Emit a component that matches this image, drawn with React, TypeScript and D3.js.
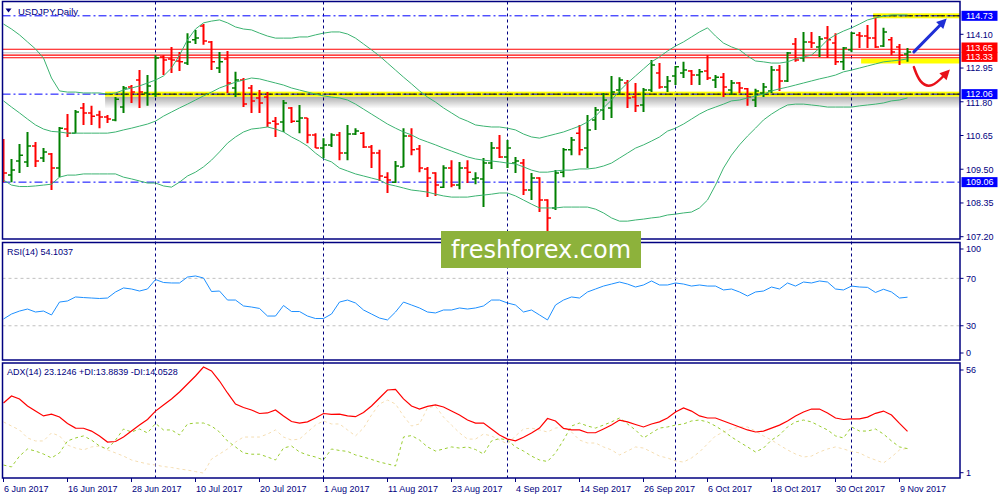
import { useEffect, useRef } from 'react'
import * as d3 from 'd3'

const symbol = 'USDJPY,Daily'
const startDate = new Date(2017, 5, 6)
const endDate = new Date(2017, 10, 11)

const opens = [
  110.46, 109.30, 109.78, 109.75, 110.29, 109.88, 110.02, 109.54, 110.87, 110.73,
  111.59, 111.42, 111.35, 111.28, 111.18, 111.62, 112.30, 112.54, 112.10, 112.06,
  113.33, 113.26, 113.19, 113.12, 113.91, 114.38, 113.84, 112.95, 113.26, 112.27,
  112.54, 112.27, 111.93, 111.96, 111.14, 111.11, 111.59, 111.14, 111.25, 110.67,
  110.22, 110.33, 110.67, 110.05, 110.70, 110.73, 110.26, 110.05, 109.23, 109.06,
  109.58, 110.63, 110.19, 109.51, 109.37, 108.89, 109.54, 108.96, 109.54, 109.17,
  109.17, 109.71, 110.22, 109.92, 109.71, 109.71, 108.79, 109.20, 108.45, 108.18,
  109.40, 110.16, 110.73, 110.22, 111.18, 111.52, 111.59, 112.20, 112.44, 111.96,
  111.69, 112.20, 112.78, 112.30, 112.68, 112.78, 112.85, 112.71, 112.85, 112.54,
  112.64, 112.20, 112.44, 112.24, 111.86, 112.10, 112.17, 112.88, 112.51, 113.77,
  113.29, 113.84, 113.67, 113.97, 113.80, 113.16, 113.57, 114.08, 114.04, 113.97,
  113.70, 113.91, 113.67, 113.43
]
const highs = [
  110.53, 109.85, 110.36, 110.77, 110.43, 110.22, 110.05, 110.94, 111.38, 111.52,
  111.76, 111.66, 111.49, 111.35, 111.96, 112.34, 112.37, 112.88, 112.71, 113.39,
  113.39, 113.67, 113.50, 114.14, 114.25, 114.45, 113.87, 113.50, 113.53, 112.82,
  112.61, 112.37, 112.20, 112.13, 111.28, 111.86, 111.62, 111.69, 111.25, 110.73,
  110.56, 110.73, 110.77, 111.01, 110.90, 110.77, 110.33, 110.16, 109.40, 109.78,
  110.90, 110.90, 110.33, 109.58, 109.40, 109.64, 109.81, 109.75, 109.81, 109.40,
  109.88, 110.43, 110.67, 110.50, 109.92, 109.85, 109.37, 109.23, 108.48, 109.47,
  110.22, 110.60, 111.01, 111.35, 111.62, 112.10, 112.68, 112.64, 112.54, 112.44,
  112.27, 113.22, 113.12, 112.68, 113.02, 113.16, 112.88, 112.92, 113.39, 112.71,
  112.78, 112.54, 112.47, 112.27, 112.24, 112.44, 113.02, 113.05, 113.50, 113.97,
  114.18, 114.18, 114.04, 114.38, 114.14, 113.67, 114.18, 114.18, 114.42, 114.66,
  114.32, 114.01, 113.77, 113.63
]
const lows = [
  109.06, 109.06, 109.37, 109.58, 109.58, 109.75, 108.79, 109.23, 110.60, 110.73,
  111.01, 111.01, 110.90, 111.08, 111.14, 111.42, 111.76, 111.59, 111.66, 111.96,
  112.71, 112.78, 112.85, 113.05, 113.77, 113.74, 112.88, 112.78, 112.10, 111.96,
  111.62, 111.42, 111.42, 110.94, 110.60, 110.77, 111.08, 110.73, 110.39, 110.22,
  109.88, 110.26, 109.81, 109.81, 110.67, 110.22, 109.54, 109.10, 108.69, 109.03,
  109.58, 109.98, 109.40, 108.55, 108.59, 108.86, 108.89, 108.82, 109.03, 108.99,
  108.21, 109.51, 109.88, 109.54, 109.37, 108.62, 108.45, 108.04, 107.36, 108.11,
  109.23, 109.98, 109.98, 109.54, 110.84, 111.18, 111.25, 112.03, 111.59, 111.45,
  111.45, 112.13, 112.24, 112.13, 112.37, 112.61, 112.37, 112.37, 112.54, 112.27,
  111.96, 112.03, 112.10, 111.66, 111.62, 111.96, 112.10, 112.17, 112.47, 113.16,
  113.16, 113.63, 113.33, 113.29, 113.05, 112.88, 113.50, 113.63, 113.63, 113.63,
  113.67, 113.39, 113.05, 113.16
]
const closes = [
  109.37, 109.47, 109.98, 110.29, 109.78, 110.09, 109.54, 110.90, 110.73, 111.45,
  111.42, 111.31, 111.28, 111.21, 111.89, 112.27, 112.13, 112.13, 112.34, 113.29,
  113.22, 113.22, 113.16, 113.84, 113.97, 113.87, 113.16, 113.16, 112.44, 112.54,
  111.72, 111.83, 111.76, 111.08, 111.04, 111.76, 111.14, 111.25, 110.67, 110.22,
  110.33, 110.67, 110.05, 110.70, 110.80, 110.26, 110.05, 109.27, 109.13, 109.61,
  110.63, 110.16, 109.54, 109.20, 108.96, 109.54, 108.96, 109.54, 109.40, 109.20,
  109.71, 110.22, 109.92, 110.22, 109.78, 108.79, 109.20, 108.45, 107.84, 109.37,
  110.16, 110.50, 110.16, 110.84, 111.52, 111.86, 112.13, 112.54, 111.93, 111.66,
  112.20, 113.05, 112.30, 112.51, 112.99, 112.88, 112.71, 112.82, 112.61, 112.64,
  112.30, 112.44, 112.27, 111.96, 112.17, 112.30, 112.88, 112.51, 113.46, 113.22,
  113.84, 113.80, 113.94, 113.91, 113.16, 113.63, 114.14, 114.04, 113.97, 113.67,
  114.18, 113.50, 113.39, 113.50
]

const bbUpper = [
  114.45, 114.28, 114.08, 113.84, 113.60, 113.29, 112.61, 112.17, 112.13, 112.13,
  112.10, 112.10, 112.10, 112.06, 112.10, 112.20, 112.27, 112.34, 112.44, 112.54,
  112.68, 112.95, 113.39, 113.91, 114.28, 114.49, 114.55, 114.59, 114.49, 114.35,
  114.28, 114.25, 114.14, 114.04, 113.97, 113.97, 113.97, 114.01, 114.01, 114.08,
  114.14, 114.18, 114.18, 114.11, 113.97, 113.77, 113.57, 113.36, 113.12, 112.88,
  112.64, 112.41, 112.17, 111.96, 111.79, 111.59, 111.42, 111.25, 111.14, 111.01,
  110.97, 110.94, 110.94, 110.90, 110.84, 110.70, 110.60, 110.56, 110.63, 110.70,
  110.77, 110.87, 110.97, 111.11, 111.31, 111.59, 111.86, 112.17, 112.44, 112.68,
  112.92, 113.16, 113.33, 113.53, 113.70, 113.84, 114.01, 114.18, 114.32, 114.04,
  113.80, 113.67, 113.57, 113.36, 113.19, 113.16, 113.12, 113.12, 113.16, 113.26,
  113.33, 113.39, 113.63, 113.91, 114.08, 114.21, 114.32, 114.45, 114.59, 114.66,
  114.72, 114.76, 114.76, 114.76
]
const bbMiddle = [
  111.83, 111.62, 111.42, 111.21, 111.01, 110.87, 110.79, 110.77, 110.73, 110.73,
  110.73, 110.73, 110.73, 110.73, 110.77, 110.84, 110.90, 110.97, 111.04, 111.14,
  111.31, 111.45, 111.59, 111.72, 111.86, 112.00, 112.13, 112.27, 112.37, 112.47,
  112.54, 112.61, 112.58, 112.51, 112.44, 112.37, 112.27, 112.20, 112.13, 112.06,
  112.00, 111.96, 111.93, 111.86, 111.72, 111.55, 111.38, 111.21, 111.04, 110.90,
  110.77, 110.67, 110.53, 110.43, 110.33, 110.22, 110.12, 110.02, 109.92, 109.85,
  109.81, 109.78, 109.75, 109.71, 109.68, 109.58, 109.47, 109.40, 109.40, 109.44,
  109.47, 109.47, 109.51, 109.51, 109.54, 109.61, 109.71, 109.88, 110.05, 110.22,
  110.33, 110.46, 110.60, 110.80, 110.90, 111.04, 111.21, 111.38, 111.52, 111.62,
  111.72, 111.83, 111.86, 111.93, 112.00, 112.06, 112.17, 112.24, 112.30, 112.37,
  112.44, 112.51, 112.58, 112.64, 112.71, 112.82, 112.88, 112.95, 113.02, 113.09,
  113.16, 113.19, 113.22, 113.26
]
const bbLower = [
  109.13, 108.96, 108.91, 108.91, 108.93, 108.96, 108.99, 109.23, 109.30, 109.30,
  109.34, 109.34, 109.34, 109.34, 109.34, 109.23, 109.17, 109.10, 109.03, 109.03,
  108.93, 108.89, 109.06, 109.27, 109.40, 109.58, 109.81, 110.09, 110.39, 110.60,
  110.77, 110.87, 110.90, 110.94, 110.87, 110.77, 110.60, 110.46, 110.29, 110.05,
  109.85, 109.75, 109.54, 109.44, 109.34, 109.27, 109.20, 109.13, 108.99, 108.93,
  108.86, 108.79, 108.76, 108.72, 108.65, 108.59, 108.55, 108.55, 108.55, 108.59,
  108.62, 108.65, 108.69, 108.69, 108.59, 108.45, 108.31, 108.18, 108.18, 108.18,
  108.21, 108.21, 108.21, 108.21, 108.14, 108.01, 107.84, 107.73, 107.73, 107.77,
  107.80, 107.84, 107.87, 107.94, 107.97, 108.01, 108.04, 108.18, 108.45, 108.96,
  109.54, 109.98, 110.33, 110.63, 110.90, 111.18, 111.38, 111.55, 111.69, 111.72,
  111.72, 111.69, 111.66, 111.62, 111.62, 111.62, 111.62, 111.66, 111.69, 111.72,
  111.76, 111.83, 111.86, 111.93
]

const rsi14 = [
  35.7, 39.9, 42.4, 44.1, 41.6, 42.4, 39.1, 50.0, 50.9, 54.3,
  53.8, 53.4, 53.0, 53.4, 58.5, 61.9, 61.0, 59.3, 61.0, 69.0,
  66.5, 66.1, 66.1, 71.1, 72.0, 70.3, 58.9, 59.3, 51.7, 51.7,
  46.7, 45.8, 44.6, 38.2, 38.2, 47.1, 42.0, 42.0, 38.2, 36.1,
  36.1, 39.9, 50.0, 51.7, 49.2, 43.3, 39.9, 36.5, 34.9, 41.6,
  50.0, 47.5, 45.0, 41.6, 40.8, 43.3, 43.3, 45.0, 44.1, 45.0,
  46.7, 51.7, 51.7, 49.2, 47.5, 41.6, 43.3, 39.1, 34.9, 47.5,
  51.7, 54.3, 53.4, 58.5, 61.0, 63.5, 65.2, 66.9, 65.2, 62.7,
  64.4, 67.8, 64.4, 64.4, 66.1, 65.2, 63.5, 64.4, 63.5, 63.5,
  60.2, 61.0, 58.5, 55.1, 58.5, 59.3, 62.7, 61.0, 66.1, 63.5,
  66.9, 66.1, 67.8, 66.9, 61.0, 60.2, 63.5, 62.7, 62.4, 58.1,
  60.8, 58.5, 53.4, 54.1
]
const adx14 = [
  38.3, 42.1, 40.5, 36.7, 34.0, 31.4, 32.4, 30.8, 27.4, 24.9,
  24.8, 23.3, 20.7, 17.4, 17.7, 20.1, 23.3, 26.5, 29.5, 34.0,
  37.3, 40.5, 44.2, 48.5, 52.8, 57.6, 55.5, 50.1, 43.7, 37.8,
  35.9, 34.6, 32.7, 33.0, 34.6, 31.4, 28.4, 27.6, 28.2, 30.3,
  32.7, 32.2, 32.4, 31.4, 31.0, 33.2, 36.7, 41.0, 45.3, 45.6,
  40.5, 36.7, 35.1, 36.5, 37.3, 36.2, 34.0, 31.9, 29.2, 27.6,
  27.6, 24.4, 21.2, 19.0, 18.1, 20.0, 22.3, 24.9, 30.0, 28.7,
  24.7, 23.9, 23.9, 22.4, 22.4, 24.4, 26.5, 29.2, 28.2, 26.8,
  25.5, 27.1, 28.2, 30.3, 33.5, 35.7, 34.0, 31.4, 30.3, 30.3,
  28.7, 27.1, 25.5, 23.9, 22.8, 23.3, 24.9, 26.5, 28.7, 31.4,
  33.5, 35.1, 35.1, 33.0, 30.3, 29.5, 29.8, 29.8, 30.8, 32.8,
  34.0, 31.9, 27.4, 23.1
]
const plusDI = [
  5.1, 4.1, 9.9, 13.7, 12.6, 11.0, 8.9, 11.6, 18.0, 19.6,
  20.7, 18.5, 15.3, 13.7, 18.5, 24.4, 22.8, 24.4, 22.3, 27.4,
  23.9, 23.9, 21.2, 27.1, 27.6, 27.6, 26.0, 22.8, 18.0, 14.8,
  11.6, 10.9, 10.9, 9.4, 7.8, 14.2, 15.3, 12.1, 10.5, 9.4,
  7.8, 13.7, 12.9, 12.4, 10.5, 9.4, 8.1, 6.7, 5.7, 4.6,
  20.1, 20.9, 18.5, 14.8, 12.6, 13.7, 14.8, 14.2, 14.8, 13.4,
  11.0, 18.0, 19.3, 18.5, 14.8, 12.6, 9.9, 7.8, 7.0, 11.6,
  18.5, 26.0, 27.6, 26.0, 24.9, 26.5, 28.2, 30.3, 27.1, 23.9,
  19.6, 22.3, 24.9, 25.5, 26.5, 27.1, 28.7, 29.2, 28.2, 26.0,
  23.3, 20.1, 17.4, 14.8, 12.1, 14.2, 18.5, 21.2, 25.5, 28.2,
  29.2, 28.2, 26.0, 23.9, 20.7, 19.6, 25.5, 23.3, 23.3, 24.4,
  21.7, 18.0, 14.8, 13.9
]
const minusDI = [
  28.2, 26.0, 23.9, 19.6, 18.0, 18.0, 22.3, 20.7, 15.8, 14.2,
  13.2, 14.8, 15.3, 13.2, 11.6, 9.9, 7.8, 6.7, 5.7, 5.1,
  4.3, 3.8, 3.0, 2.4, 1.6, 0.8, 8.3, 11.0, 13.7, 17.4,
  20.1, 20.1, 20.1, 21.7, 23.9, 20.1, 18.5, 19.0, 22.8, 26.5,
  28.7, 27.1, 27.1, 23.9, 20.7, 24.9, 31.9, 37.8, 39.9, 37.8,
  31.4, 26.0, 27.1, 35.7, 36.7, 30.8, 26.5, 22.3, 19.0, 19.0,
  21.7, 20.7, 18.5, 16.4, 20.7, 24.4, 24.9, 23.9, 22.8, 24.9,
  25.5, 22.8, 18.5, 16.9, 16.9, 14.8, 13.2, 10.5, 12.6, 14.8,
  14.2, 12.1, 9.9, 8.9, 7.3, 6.7, 8.9, 12.1, 16.4, 20.7,
  22.8, 24.4, 25.5, 25.5, 23.3, 20.7, 18.5, 15.8, 13.2, 11.0,
  9.4, 9.9, 12.1, 13.7, 14.8, 13.7, 12.4, 11.6, 9.4, 7.8,
  6.2, 9.4, 13.2, 14.1
]

const priceTicks = [114.10, 112.95, 111.80, 110.65, 109.50, 108.35, 107.20]
const blueLevels = [114.73, 112.06, 109.06]
const redLevels = [113.59, 113.39, 113.30]
const redTags = [113.65, 113.33]
const bidLevel = 113.47
// yellow marker lines: price and the bar index where each one starts
const yellowLevels = [114.73, 113.19, 112.06]
const yellowFrom = [108.7, 107.2, 12.7]
const rsiTicks = [100, 70, 30, 0]
const rsiLevels = [70, 30]
const adxTicks = [56, 1]
const rsiTitle = 'RSI(14) 54.1037'
const adxTitle = 'ADX(14) 23.1246 +DI:13.8839 -DI:14.0528'
const dateLabels = [
  '6 Jun 2017', '16 Jun 2017', '28 Jun 2017', '10 Jul 2017', '20 Jul 2017',
  '1 Aug 2017', '11 Aug 2017', '23 Aug 2017', '4 Sep 2017', '14 Sep 2017',
  '26 Sep 2017', '6 Oct 2017', '18 Oct 2017', '30 Oct 2017', '9 Nov 2017'
]
// hand-drawn arrows, in (bar index, price)
const arrowUp = [[113.8, 113.50], [117.9, 114.64]]
const arrowDown = [[113.8, 112.98], [114.5, 112.45], [116.0, 112.25], [118.3, 112.90]]

export default function App() {
  const svgRef = useRef<SVGSVGElement | null>(null)

  useEffect(() => {
    if (!svgRef.current) return
    const svg = d3.select(svgRef.current)
    svg.selectAll('*').remove()

    const font = '"Liberation Sans", Arial, sans-serif'
    const navy = '#000080'
    const left = 2.5
    const right = 960
    const panes = [
      { top: 1.5, bottom: 239 },
      { top: 242.5, bottom: 360 },
      { top: 363, bottom: 478 }
    ]

    const days = d3.timeDay.range(startDate, endDate).filter(d => d.getDay() % 6 !== 0)
    const fmt = d3.timeFormat('%-d %b %Y')
    const idx = d3.range(days.length)

    const x = d3.scaleLinear().domain([0, days.length - 1]).range([3.5, 907.5])
    const y = d3.scaleLinear().domain([107.2, 114.1]).range([236.7, 34.3])
    const yRsi = d3.scaleLinear().domain([0, 100]).range([361.3, 242.8])
    const yAdx = d3.scaleLinear().domain([1, 56]).range([472.7, 370])

    svg.append('rect').attr('width', 1000).attr('height', 500).attr('fill', '#fff')

    const defs = svg.append('defs')
    panes.forEach((p, k) => {
      defs.append('clipPath').attr('id', `pane${k}`).append('rect')
        .attr('x', left).attr('y', p.top)
        .attr('width', right - left).attr('height', p.bottom - p.top)
    })
    const grad = defs.append('linearGradient').attr('id', 'shade')
      .attr('x1', 0).attr('y1', 0).attr('x2', 0).attr('y2', 1)
    grad.append('stop').attr('offset', '0%').attr('stop-color', '#000').attr('stop-opacity', 0.32)
    grad.append('stop').attr('offset', '100%').attr('stop-color', '#000').attr('stop-opacity', 0)

    // month separators through all panes
    const monthStarts = idx.filter(i => i > 0 && days[i].getMonth() !== days[i - 1].getMonth())
    svg.append('g').selectAll('line').data(monthStarts).enter().append('line')
      .attr('x1', i => x(i)).attr('x2', i => x(i))
      .attr('y1', panes[0].top).attr('y2', panes[2].bottom)
      .attr('stroke', navy).attr('stroke-dasharray', '3,3').attr('stroke-width', 1)

    // ---------- main pane ----------
    const g0 = svg.append('g').attr('clip-path', 'url(#pane0)')

    yellowLevels.forEach((v, k) => {
      const x0 = x(yellowFrom[k])
      if (k === 2) {
        g0.append('rect').attr('x', x0).attr('y', y(v) + 2.5)
          .attr('width', right - x0).attr('height', 12).attr('fill', 'url(#shade)')
      }
      g0.append('rect').attr('x', x0).attr('y', y(v) - 2.5)
        .attr('width', right - x0).attr('height', 5).attr('fill', '#ffff00')
    })

    blueLevels.forEach(v => {
      g0.append('line').attr('x1', left).attr('x2', right)
        .attr('y1', y(v)).attr('y2', y(v))
        .attr('stroke', '#0000ff').attr('stroke-dasharray', '8,3,2,3')
      const k = yellowLevels.indexOf(v)
      if (k >= 0) {
        g0.append('line').attr('x1', x(yellowFrom[k])).attr('x2', right)
          .attr('y1', y(v)).attr('y2', y(v))
          .attr('stroke', '#000').attr('stroke-dasharray', '8,3,2,3')
      }
    })

    g0.append('line').attr('x1', left).attr('x2', right)
      .attr('y1', y(bidLevel)).attr('y2', y(bidLevel)).attr('stroke', '#c0c0c0')
    redLevels.forEach(v => {
      g0.append('line').attr('x1', left).attr('x2', right)
        .attr('y1', y(v)).attr('y2', y(v)).attr('stroke', '#ff0000').attr('stroke-width', 1.2)
    })

    const bars = g0.selectAll('g.bar').data(idx).enter().append('g')
      .attr('stroke', i => (closes[i] >= opens[i] ? '#008000' : '#ff0000'))
    bars.append('line')
      .attr('x1', i => x(i)).attr('x2', i => x(i))
      .attr('y1', i => y(highs[i])).attr('y2', i => y(lows[i]))
      .attr('stroke-width', 2)
    bars.append('line')
      .attr('x1', i => x(i) - 3.5).attr('x2', i => x(i))
      .attr('y1', i => y(opens[i])).attr('y2', i => y(opens[i]))
      .attr('stroke-width', 1.5)
    bars.append('line')
      .attr('x1', i => x(i)).attr('x2', i => x(i) + 3.5)
      .attr('y1', i => y(closes[i])).attr('y2', i => y(closes[i]))
      .attr('stroke-width', 1.5)

    ;[bbUpper, bbMiddle, bbLower].forEach(band => {
      const line = d3.line<number>().x(i => x(i)).y(i => y(band[i]))
      g0.append('path').attr('d', line(idx)).attr('fill', 'none')
        .attr('stroke', '#3cb371').attr('stroke-width', 1)
    })

    // arrows
    const ax = (p: number[]) => [x(p[0]), y(p[1])]
    const head = (tip: number[], from: number[], color: string) => {
      const a = Math.atan2(tip[1] - from[1], tip[0] - from[0])
      const len = 10
      const w = 5
      const bx = tip[0] - len * Math.cos(a)
      const by = tip[1] - len * Math.sin(a)
      const pts = [
        tip,
        [bx + w * Math.sin(a), by - w * Math.cos(a)],
        [bx - w * Math.sin(a), by + w * Math.cos(a)]
      ]
      g0.append('polygon').attr('points', pts.map(p => p.join(',')).join(' ')).attr('fill', color)
    }
    const up = arrowUp.map(ax)
    g0.append('line').attr('x1', up[0][0]).attr('y1', up[0][1])
      .attr('x2', up[1][0] - 4).attr('y2', up[1][1] + 4)
      .attr('stroke', '#1f2fd6').attr('stroke-width', 3).attr('stroke-linecap', 'round')
    head(up[1], up[0], '#1f2fd6')

    const dn = arrowDown.map(ax)
    const curve = d3.line<number[]>().x(p => p[0]).y(p => p[1]).curve(d3.curveBasis)
    g0.append('path').attr('d', curve(dn.slice(0, 3).concat([[dn[3][0] - 4, dn[3][1] + 4]])))
      .attr('fill', 'none').attr('stroke', '#e8111a').attr('stroke-width', 2.5)
      .attr('stroke-linecap', 'round')
    head(dn[3], dn[2], '#e8111a')

    // ---------- RSI pane ----------
    const g1 = svg.append('g').attr('clip-path', 'url(#pane1)')
    rsiLevels.forEach(v => {
      g1.append('line').attr('x1', left).attr('x2', right)
        .attr('y1', yRsi(v)).attr('y2', yRsi(v))
        .attr('stroke', '#c0c0c0').attr('stroke-dasharray', '3,3')
    })
    g1.append('path')
      .attr('d', d3.line<number>().x(i => x(i)).y(i => yRsi(rsi14[i]))(idx))
      .attr('fill', 'none').attr('stroke', '#1e90ff').attr('stroke-width', 1)

    // ---------- ADX pane ----------
    const g2 = svg.append('g').attr('clip-path', 'url(#pane2)')
    const adxLine = (arr: number[]) => d3.line<number>().x(i => x(i)).y(i => yAdx(arr[i]))(idx)
    g2.append('path').attr('d', adxLine(minusDI)).attr('fill', 'none')
      .attr('stroke', '#f5deb3').attr('stroke-width', 1).attr('stroke-dasharray', '3,3')
    g2.append('path').attr('d', adxLine(plusDI)).attr('fill', 'none')
      .attr('stroke', '#9acd32').attr('stroke-width', 1).attr('stroke-dasharray', '3,3')
    g2.append('path').attr('d', adxLine(adx14)).attr('fill', 'none')
      .attr('stroke', '#ff0000').attr('stroke-width', 1.2)

    // pane frames
    panes.forEach(p => {
      svg.append('rect').attr('x', left).attr('y', p.top)
        .attr('width', right - left).attr('height', p.bottom - p.top)
        .attr('fill', 'none').attr('stroke', navy).attr('stroke-width', 1.5)
    })

    // watermark
    svg.append('rect').attr('x', 441).attr('y', 231).attr('width', 200).attr('height', 37)
      .attr('fill', '#8db23b')
    svg.append('text').attr('x', 541).attr('y', 258).attr('text-anchor', 'middle')
      .attr('font-family', '"DejaVu Sans", Verdana, sans-serif').attr('font-size', 24)
      .attr('fill', '#fff').text('freshforex.com')

    // ---------- labels ----------
    const label = (tx: number, ty: number, s: string, color = navy, size = 9) =>
      svg.append('text').attr('x', tx).attr('y', ty).attr('font-family', font)
        .attr('font-size', size).attr('fill', color).text(s)

    svg.append('path').attr('d', 'M5.5,8.5 L11.5,8.5 L8.5,12.5 Z').attr('fill', navy)
    label(18, 14.5, symbol, navy, 9.5)
    label(7, 254.5, rsiTitle)
    label(7, 375, adxTitle)

    const tick = (ty: number) => svg.append('line').attr('x1', right).attr('x2', right + 3.5)
      .attr('y1', ty).attr('y2', ty).attr('stroke', navy)

    const tagged = blueLevels.concat(redTags).map(v => y(v))
    priceTicks.forEach(v => {
      tick(y(v))
      let ty = y(v)
      tagged.forEach(t => {
        if (Math.abs(ty - t) < 9) ty = t + (ty > t ? 9 : -9)
      })
      label(966, ty + 3.3, v.toFixed(2))
    })
    const tag = (v: number, fill: string) => {
      svg.append('rect').attr('x', 961.5).attr('y', y(v) - 5)
        .attr('width', 36).attr('height', 10).attr('fill', fill)
      label(966, y(v) + 3.2, v.toFixed(2), '#fff')
    }
    blueLevels.forEach(v => tag(v, '#0000ff'))
    redTags.forEach(v => tag(v, '#ff0000'))

    rsiTicks.forEach(v => {
      const ty = Math.max(panes[1].top + 6.5, Math.min(panes[1].bottom - 7, yRsi(v)))
      tick(ty)
      label(966, ty + 3.3, String(v))
    })
    adxTicks.forEach(v => {
      tick(yAdx(v))
      label(966, yAdx(v) + 3.3, String(v))
    })

    dateLabels.forEach(s => {
      const i = days.findIndex(d => fmt(d) === s)
      if (i < 0) return
      svg.append('line').attr('x1', x(i)).attr('x2', x(i))
        .attr('y1', panes[2].bottom).attr('y2', panes[2].bottom + 4).attr('stroke', navy)
      label(x(i) + 0.5, 492, s)
    })
  }, [])

  return (
    <svg
      ref={svgRef}
      width={1000}
      height={500}
      style={{ position: 'absolute', left: 0, top: 0, display: 'block' }}
    />
  )
}
